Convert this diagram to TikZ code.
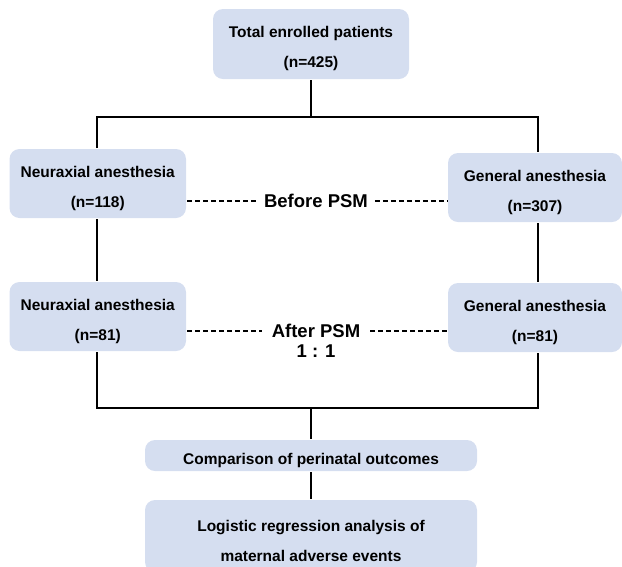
\documentclass[tikz,border=0pt]{standalone}
\usepackage{fontspec}
\setmainfont{Liberation Sans}
\definecolor{boxblue}{HTML}{D5DEF0}
\newcommand{\boxstrut}{\rule{0pt}{21pt}}

\begin{document}
\begin{tikzpicture}[x=1pt,y=1pt,line width=2pt,
sysbox/.style={fill=boxblue,rounded corners=10pt,inner sep=0pt,align=center,font=\fontsize{15.5}{30}\selectfont\bfseries},
psmlabel/.style={inner sep=6pt,font=\fontsize{18.5}{22}\selectfont\bfseries},
dashline/.style={line width=1.3pt,dash pattern=on 5pt off 3pt}]

\useasboundingbox (0,0) rectangle (622,-566);
\clip (0,0) rectangle (622,-566);

% boxes
\draw (311,-44) node[sysbox,minimum width=196pt,minimum height=70pt] (T) {\boxstrut Total enrolled patients\\(n=425)};
\draw (97.75,-183.5) node[sysbox,minimum width=176.5pt,minimum height=69pt] (NA1) {\boxstrut Neuraxial anesthesia\\(n=118)};
\draw (535,-187.5) node[sysbox,minimum width=174pt,minimum height=69pt] (GA1) {\boxstrut General anesthesia\\(n=307)};
\draw (97.75,-316.5) node[sysbox,minimum width=176.5pt,minimum height=69pt] (NA2) {\boxstrut Neuraxial anesthesia\\(n=81)};
\draw (535,-317.5) node[sysbox,minimum width=174pt,minimum height=69pt] (GA2) {\boxstrut General anesthesia\\(n=81)};
\draw (311,-455.5) node[sysbox,minimum width=332pt,minimum height=31pt] (CMP) {\boxstrut Comparison of perinatal outcomes};
\draw (311,-536) node[sysbox,minimum width=332pt,minimum height=72pt] (LOG) {\boxstrut Logistic regression analysis of\\maternal adverse events};

% labels
\draw (316,-201) node[psmlabel] (BP) {Before PSM};
\draw (316,-331) node[psmlabel,inner sep=9pt] (AP) {After PSM};
\draw (AP.south) ++(0,4) node[psmlabel,inner sep=0pt,anchor=north] (R11) {1 : 1};

% frame
\coordinate (FTL) at (96.5,-117);
\coordinate (FTR) at (538,-117);
\coordinate (FBL) at (96.5,-408);
\coordinate (FBR) at (538,-408);

\draw (T.south) -- (T.south |- FTL);
\draw (FTL |- NA1.north) -- (FTL) -- (FTR) -- (FTR |- GA1.north);
\draw (NA1.south -| FTL) -- (NA2.north -| FTL);
\draw (GA1.south -| FTR) -- (GA2.north -| FTR);
\draw (NA2.south -| FBL) -- (FBL) -- (FBR) -- (GA2.south -| FBR);
\draw (CMP.north |- FBL) -- (CMP.north);
\draw (CMP.south) -- (LOG.north);

% dashed links
\draw[dashline] (NA1.east |- BP) -- (BP.west);
\draw[dashline] (BP.east) -- (GA1.west |- BP);
\draw[dashline] (NA2.east |- AP) -- (AP.west);
\draw[dashline] (AP.east) -- (GA2.west |- AP);

\end{tikzpicture}
\end{document}
